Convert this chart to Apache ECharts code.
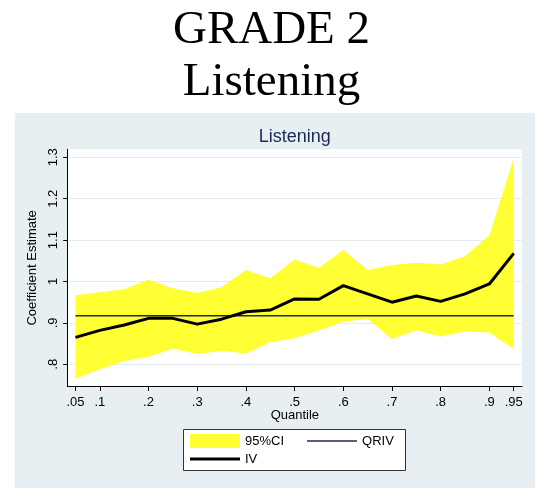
<!DOCTYPE html>
<html>
<head>
<meta charset="utf-8">
<script src="https://cdn.jsdelivr.net/npm/echarts@6/dist/echarts.min.js"></script>
<style>
  html, body { margin: 0; padding: 0; background: #ffffff; }
  #chart { width: 543px; height: 488px; }
</style>
</head>
<body>
<div id="chart"></div>
<script>
// Quantile regression (IV) coefficient estimates with 95% band, Grade 2 listening
const quantiles = [0.05, 0.10, 0.15, 0.20, 0.25, 0.30, 0.35, 0.40, 0.45, 0.50,
                   0.55, 0.60, 0.65, 0.70, 0.75, 0.80, 0.85, 0.90, 0.95];
const ivEstimate = [0.865, 0.882, 0.895, 0.911, 0.911, 0.897, 0.909, 0.927, 0.931, 0.958,
                    0.957, 0.990, 0.970, 0.950, 0.965, 0.952, 0.970, 0.994, 1.068];
const ciUpper = [0.967, 0.974, 0.981, 1.004, 0.984, 0.972, 0.986, 1.028, 1.008, 1.053,
                 1.033, 1.076, 1.028, 1.040, 1.045, 1.041, 1.061, 1.111, 1.297];
const ciLower = [0.765, 0.788, 0.808, 0.818, 0.838, 0.825, 0.833, 0.826, 0.854, 0.863,
                 0.882, 0.903, 0.910, 0.861, 0.882, 0.867, 0.879, 0.877, 0.837];
const qrivEstimate = 0.917;

const xTickValues = [0.05, 0.1, 0.2, 0.3, 0.4, 0.5, 0.6, 0.7, 0.8, 0.9, 0.95];
const xTickLabels = ['.05', '.1', '.2', '.3', '.4', '.5', '.6', '.7', '.8', '.9', '.95'];
const yTickValues = [0.8, 0.9, 1.0, 1.1, 1.2, 1.3];
const yTickLabels = ['.8', '.9', '1', '1.1', '1.2', '1.3'];

const SANS = '"Liberation Sans", Arial, Helvetica, sans-serif';
const SERIF = '"Liberation Serif", "Times New Roman", serif';
const BAND = '#ffff33';
const NAVY = '#1b2a52';

function tickText(values, labels) {
  return function (v) {
    for (let i = 0; i < values.length; i++) {
      if (Math.abs(values[i] - v) < 1e-6) return labels[i];
    }
    return '';
  };
}

// Legend line icons: zero-area corner points keep the 50x14 box, the bar is the visible stroke
const thinLineIcon = 'path://M0,0L0,0ZM50,14L50,14ZM0,6.3H50V7.7H0Z';
const thickLineIcon = 'path://M0,0L0,0ZM50,14L50,14ZM0,5.5H50V8.5H0Z';

const chart = echarts.init(document.getElementById('chart'), null, { renderer: 'canvas' });

chart.setOption({
  animation: false,
  backgroundColor: '#ffffff',
  graphic: {
    elements: [
      // light bluish-gray graph region
      { type: 'rect', z: -100, silent: true,
        shape: { x: 14.7, y: 113, width: 520.3, height: 375 },
        style: { fill: '#e8eff3' } },
      // frame around the legend
      { type: 'rect', z: 0, silent: true,
        shape: { x: 183.5, y: 429.5, width: 222, height: 41 },
        style: { fill: '#ffffff', stroke: '#333333', lineWidth: 1 } }
    ]
  },
  title: [
    { text: 'GRADE 2', left: 'center', top: 7, padding: 0,
      textStyle: { fontFamily: SERIF, fontSize: 47, fontWeight: 'normal', color: '#000' } },
    { text: 'Listening', left: 'center', top: 59, padding: 0,
      textStyle: { fontFamily: SERIF, fontSize: 47, fontWeight: 'normal', color: '#000' } },
    { text: 'Listening', left: 294.8, textAlign: 'center', top: 128.5, padding: 0,
      textStyle: { fontFamily: SANS, fontSize: 18, fontWeight: 'normal', color: NAVY } }
  ],
  grid: {
    left: 67.7, right: 21, top: 149.3, bottom: 101.5,
    show: true, backgroundColor: '#ffffff', borderWidth: 0
  },
  xAxis: {
    type: 'value', min: 0.034, max: 0.967,
    name: 'Quantile', nameLocation: 'middle', nameGap: 18,
    nameTextStyle: { fontFamily: SANS, fontSize: 13, color: '#000' },
    axisLine: { show: true, onZero: false, lineStyle: { color: '#000', width: 1 } },
    axisTick: { show: true, length: 4.5, customValues: xTickValues, lineStyle: { color: '#000' } },
    axisLabel: { customValues: xTickValues, formatter: tickText(xTickValues, xTickLabels),
                 margin: 9, fontFamily: SANS, fontSize: 13, color: '#000' },
    splitLine: { show: false }
  },
  yAxis: {
    type: 'value', min: 0.7464, max: 1.3193,
    name: 'Coefficient Estimate', nameLocation: 'middle', nameGap: 23,
    nameTextStyle: { fontFamily: SANS, fontSize: 13, color: '#000' },
    axisLine: { show: true, onZero: false, lineStyle: { color: '#000', width: 1 } },
    axisTick: { show: true, length: 4.5, customValues: yTickValues, lineStyle: { color: '#000' } },
    axisLabel: { customValues: yTickValues, formatter: tickText(yTickValues, yTickLabels),
                 rotate: 90, margin: 8, fontFamily: SANS, fontSize: 13, color: '#000' },
    splitLine: { show: true, lineStyle: { color: '#e4ecef', width: 1.2 } }
  },
  legend: [
    {
      left: 190, top: 434, itemWidth: 50, itemHeight: 14, itemGap: 23,
      selectedMode: false, padding: 0, z: 5,
      textStyle: { fontFamily: SANS, fontSize: 13, color: '#000' },
      data: [{ name: '95%CI', icon: 'rect' }, { name: 'QRIV', icon: thinLineIcon }]
    },
    {
      left: 190, top: 452, itemWidth: 50, itemHeight: 14,
      selectedMode: false, padding: 0, z: 5,
      textStyle: { fontFamily: SANS, fontSize: 13, color: '#000' },
      data: [{ name: 'IV', icon: thickLineIcon }]
    }
  ],
  series: [
    {
      name: '95%CI', type: 'custom', coordinateSystem: 'cartesian2d', silent: true, z: 1,
      itemStyle: { color: BAND },
      data: quantiles.map((q, i) => [q, ciLower[i], ciUpper[i]]),
      encode: { x: 0, y: [1, 2] },
      renderItem: function (params, api) {
        if (params.dataIndex !== 0) return null;
        const pts = [];
        for (let i = 0; i < quantiles.length; i++) pts.push(api.coord([quantiles[i], ciUpper[i]]));
        for (let i = quantiles.length - 1; i >= 0; i--) pts.push(api.coord([quantiles[i], ciLower[i]]));
        return { type: 'polygon', shape: { points: pts }, style: { fill: BAND } };
      }
    },
    {
      name: 'QRIV', type: 'line', z: 3, symbol: 'none', silent: true,
      data: quantiles.map(q => [q, qrivEstimate]),
      itemStyle: { color: NAVY },
      lineStyle: { color: NAVY, width: 1.5 }
    },
    {
      name: 'IV', type: 'line', z: 4, symbol: 'none', silent: true,
      data: quantiles.map((q, i) => [q, ivEstimate[i]]),
      itemStyle: { color: '#000' },
      lineStyle: { color: '#000', width: 3, join: 'round' }
    }
  ]
});
</script>
</body>
</html>
